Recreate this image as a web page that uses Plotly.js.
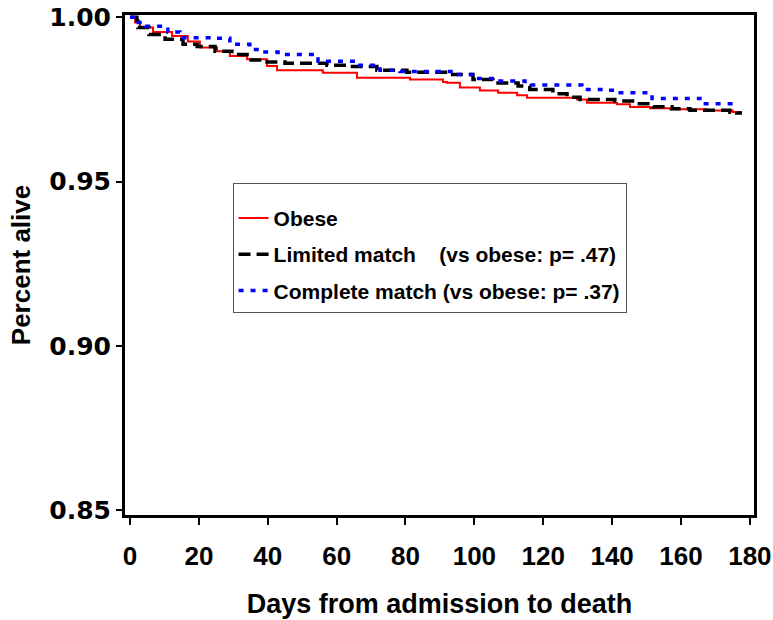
<!DOCTYPE html>
<html>
<head>
<meta charset="utf-8">
<script src="https://cdn.plot.ly/plotly-3.0.1.min.js"></script>
<style>html,body{margin:0;padding:0;background:#fff;}#chart{width:773px;height:620px;}</style>
</head>
<body>
<div id="chart"></div>
<script>
// Kaplan-Meier style step curves
const obeseDays = [0, 1.5, 2.9, 6.7, 12.2, 16.8, 20.3, 25.3, 29, 34, 39.8, 42.7, 56, 65.9, 81.3, 90.9, 92, 95.8, 101.6, 106.9, 112.4, 115.3, 129.8, 132.7, 141.4, 145.2, 151, 156.8, 167.5, 175, 177.7];
const obeseSurv = [1.0, 0.9984, 0.9969, 0.9955, 0.9943, 0.9926, 0.9908, 0.9897, 0.9882, 0.9872, 0.9852, 0.9839, 0.9831, 0.9816, 0.9811, 0.9803, 0.9801, 0.9786, 0.9777, 0.9770, 0.9763, 0.9755, 0.9750, 0.9740, 0.9735, 0.9727, 0.9723, 0.9720, 0.9716, 0.9712, 0.9712];

const limitedDays = [0, 2, 2.3, 5.5, 10.2, 15.4, 19.5, 24.7, 29.6, 34, 39.2, 45, 57.2, 63.9, 71.7, 80.4, 92.3, 99.6, 105.4, 112.7, 116.1, 122.8, 126.9, 130.7, 140.8, 146.6, 151.9, 157.4, 162.6, 174.2, 176.2, 177.7];
const limitedSurv = [1.0, 0.9989, 0.9969, 0.9948, 0.9933, 0.9918, 0.9911, 0.9897, 0.9887, 0.9870, 0.9864, 0.9860, 0.9854, 0.9850, 0.9839, 0.9833, 0.9826, 0.9811, 0.9800, 0.9791, 0.9780, 0.9767, 0.9757, 0.9750, 0.9745, 0.9737, 0.9728, 0.9722, 0.9717, 0.9711, 0.9709, 0.9709];

const completeDays = [0, 1.5, 4.4, 11, 14.5, 24.1, 29, 34.8, 37.7, 43, 54.6, 65.9, 72.6, 78.4, 94.4, 100.2, 106.9, 114.7, 131.2, 137.9, 140.8, 151.6, 165.5, 175.7];
const completeSurv = [1.0, 0.9984, 0.9973, 0.9955, 0.9938, 0.9936, 0.9918, 0.9902, 0.9894, 0.9887, 0.9866, 0.9854, 0.9839, 0.9835, 0.9826, 0.9814, 0.9806, 0.9794, 0.9780, 0.9778, 0.9770, 0.9753, 0.9737, 0.9737];

const seriesNames = [
  'Obese',
  'Limited match\u00a0\u00a0\u00a0\u00a0(vs obese: p=\u00a0.47)',
  'Complete match (vs obese: p=\u00a0.37)'
];
const xTicks = [0, 20, 40, 60, 80, 100, 120, 140, 160, 180];
const yTicks = [0.85, 0.90, 0.95, 1.00];
const yTickText = ['0.85', '0.90', '0.95', '1.00'];

const traces = [
  {x: obeseDays, y: obeseSurv, name: seriesNames[0], legendgroup: 'a', mode: 'lines',
   line: {shape: 'hv', color: '#ff0000', width: 2}},
  {x: limitedDays, y: limitedSurv, name: seriesNames[1], legendgroup: 'b', mode: 'lines',
   line: {shape: 'hv', color: '#000000', width: 3.5, dash: '12px,6px'}},
  {x: completeDays, y: completeSurv, name: seriesNames[2], legendgroup: 'c', mode: 'lines',
   line: {shape: 'hv', color: '#0000ff', width: 3.5, dash: '5px,7px'}}
];

const layout = {
  width: 773, height: 620,
  margin: {l: 125, r: 19, t: 15, b: 105},
  paper_bgcolor: '#ffffff', plot_bgcolor: '#ffffff',
  font: {family: 'Liberation Sans, Arial, sans-serif', color: '#000'},
  showlegend: true,
  legend: {
    x: 0.171, y: 0.665, xanchor: 'left', yanchor: 'top',
    bordercolor: '#555555', borderwidth: 1, bgcolor: '#ffffff',
    font: {family: 'Liberation Sans, Arial, sans-serif', size: 21, color: '#000', weight: 'bold'},
    title: {text: ' ', font: {size: 11}},
    tracegroupgap: 6
  },
  xaxis: {
    range: [-1.45, 181.2], tickvals: xTicks, ticktext: xTicks.map(String),
    showgrid: false, zeroline: false, showline: true, linecolor: '#000', linewidth: 3, mirror: true,
    ticks: 'outside', ticklen: 7, tickwidth: 2, tickcolor: '#000', ticklabelstandoff: 9,
    tickfont: {family: 'Liberation Sans Narrow, Liberation Sans, sans-serif', size: 26, weight: 'bold', color: '#000'},
    title: {text: 'Days from admission to death', standoff: 24,
            font: {family: 'Liberation Sans, Arial, sans-serif', size: 27, weight: 'bold', color: '#000'}}
  },
  yaxis: {
    range: [0.8485, 1.0007], tickvals: yTicks, ticktext: yTickText,
    showgrid: false, zeroline: false, showline: true, linecolor: '#000', linewidth: 3, mirror: true,
    ticks: 'outside', ticklen: 6, tickwidth: 2, tickcolor: '#000',
    tickfont: {family: 'DejaVu Sans, sans-serif', size: 25, weight: 'bold', color: '#000'},
    title: {text: 'Percent alive', standoff: 12,
            font: {family: 'Liberation Sans, Arial, sans-serif', size: 26, weight: 'bold', color: '#000'}}
  }
};

Plotly.newPlot('chart', traces, layout, {displayModeBar: false, staticPlot: true});
</script>
</body>
</html>
